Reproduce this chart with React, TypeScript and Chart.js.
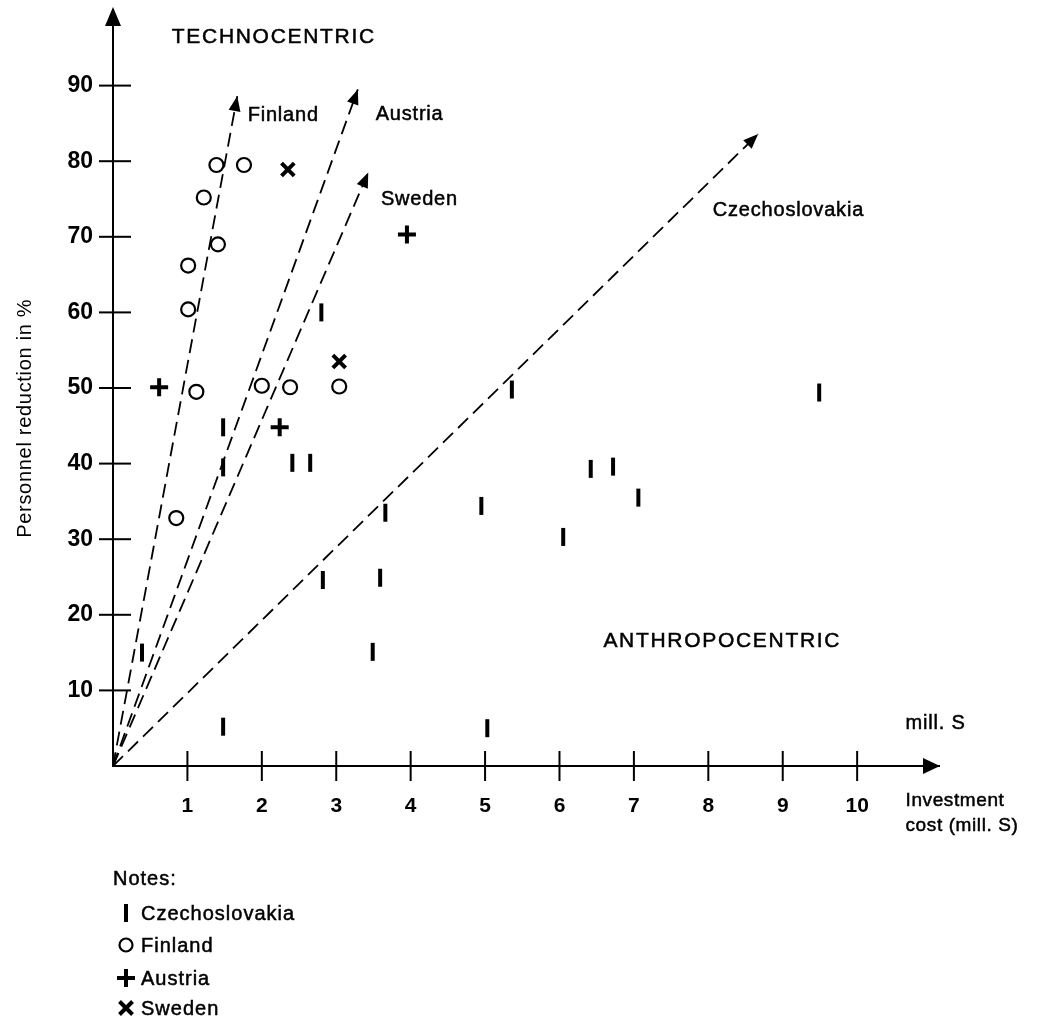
import React, { useEffect, useRef } from "react";
import { Chart, registerables } from "chart.js";

Chart.register(...registerables);

// ---- data ----
const czechX = [2.8, 1.48, 1.48, 2.41, 2.65, 3.66, 2.82, 3.59, 0.39, 3.49, 1.48, 5.36, 9.49, 6.42, 6.72, 7.06, 4.95, 6.05, 5.03];
const czechY = [60.0, 44.8, 39.5, 40.1, 40.1, 33.5, 24.6, 24.9, 15.0, 15.1, 5.2, 49.8, 49.4, 39.3, 39.6, 35.5, 34.4, 30.3, 5.0];
const finlandX = [1.39, 1.76, 1.22, 1.41, 1.01, 1.01, 1.12, 2.0, 2.38, 3.04, 0.85];
const finlandY = [79.5, 79.5, 75.2, 69.0, 66.2, 60.4, 49.5, 50.3, 50.1, 50.2, 32.8];
const austriaX = [3.95, 0.62, 2.24];
const austriaY = [70.3, 50.1, 44.8];
const swedenX = [2.35, 3.04];
const swedenY = [78.9, 53.5];

const trendNames = ["Finland", "Austria", "Sweden", "Czechoslovakia"];
const trendTipX = [1.67, 3.29, 3.43, 8.67];
const trendTipY = [88.6, 89.5, 78.5, 83.6];

const xTickValues = [1, 2, 3, 4, 5, 6, 7, 8, 9, 10];
const yTickValues = [10, 20, 30, 40, 50, 60, 70, 80, 90];

const legendNames = ["Czechoslovakia", "Finland", "Austria", "Sweden"];

// annotation texts (data coords)
const noteTexts = ["TECHNOCENTRIC", "Finland", "Austria", "Sweden", "Czechoslovakia", "ANTHROPOCENTRIC", "mill. S"];
const noteX = [0.79, 1.81, 3.53, 3.6, 8.06, 6.59, 10.65];
const noteY = [95.6, 85.3, 85.4, 74.2, 72.8, 15.7, 4.9];

const FONT = '"Liberation Sans", Arial, sans-serif';

const toPts = (xs: number[], ys: number[]) => xs.map((x, i) => ({ x, y: ys[i] }));

function boldishText(ctx: CanvasRenderingContext2D, t: string, x: number, y: number) {
  ctx.fillText(t, x, y);
  ctx.save();
  ctx.lineWidth = 0.5;
  ctx.strokeStyle = "#000";
  ctx.strokeText(t, x, y);
  ctx.restore();
}

function drawMarker(ctx: CanvasRenderingContext2D, kind: string, x: number, y: number) {
  ctx.save();
  ctx.strokeStyle = "#000";
  ctx.lineCap = "butt";
  if (kind === "bar") {
    ctx.lineWidth = 4;
    ctx.beginPath();
    ctx.moveTo(x, y - 9);
    ctx.lineTo(x, y + 9);
    ctx.stroke();
  } else if (kind === "circle") {
    ctx.lineWidth = 2.2;
    ctx.beginPath();
    ctx.arc(x, y, 6.5, 0, Math.PI * 2);
    ctx.stroke();
  } else if (kind === "plus") {
    ctx.lineWidth = 4;
    ctx.beginPath();
    ctx.moveTo(x - 9, y);
    ctx.lineTo(x + 9, y);
    ctx.moveTo(x, y - 9);
    ctx.lineTo(x, y + 9);
    ctx.stroke();
  } else {
    ctx.lineWidth = 4;
    const d = 6.5;
    ctx.beginPath();
    ctx.moveTo(x - d, y - d);
    ctx.lineTo(x + d, y + d);
    ctx.moveTo(x + d, y - d);
    ctx.lineTo(x - d, y + d);
    ctx.stroke();
  }
  ctx.restore();
}

const decorPlugin = {
  id: "decor",
  afterDatasetsDraw(chart: any) {
    const ctx: CanvasRenderingContext2D = chart.ctx;
    const xs = chart.scales.x;
    const ys = chart.scales.y;
    const area = chart.chartArea;
    const ox = xs.getPixelForValue(0);
    const oy = ys.getPixelForValue(0);
    ctx.save();
    ctx.fillStyle = "#000";
    ctx.strokeStyle = "#000";

    // arrowheads on trend lines
    trendTipX.forEach((tx, i) => {
      const px = xs.getPixelForValue(tx);
      const py = ys.getPixelForValue(trendTipY[i]);
      const ang = Math.atan2(py - oy, px - ox);
      const L = 15, W = 6;
      ctx.beginPath();
      ctx.moveTo(px, py);
      ctx.lineTo(px - L * Math.cos(ang) + W * Math.sin(ang), py - L * Math.sin(ang) - W * Math.cos(ang));
      ctx.lineTo(px - L * Math.cos(ang) - W * Math.sin(ang), py - L * Math.sin(ang) + W * Math.cos(ang));
      ctx.closePath();
      ctx.fill();
    });

    // axis tick marks crossing the axes
    ctx.lineWidth = 2;
    xTickValues.forEach((v) => {
      const px = xs.getPixelForValue(v);
      ctx.beginPath();
      ctx.moveTo(px, oy - 15);
      ctx.lineTo(px, oy + 15);
      ctx.stroke();
    });
    yTickValues.forEach((v) => {
      const py = ys.getPixelForValue(v);
      ctx.beginPath();
      ctx.moveTo(ox - 14, py);
      ctx.lineTo(ox + 18, py);
      ctx.stroke();
    });

    // axis arrows
    ctx.beginPath();
    ctx.moveTo(ox, area.top - 3);
    ctx.lineTo(ox - 8, area.top + 16);
    ctx.lineTo(ox + 8, area.top + 16);
    ctx.closePath();
    ctx.fill();
    ctx.beginPath();
    ctx.moveTo(area.right + 1, oy);
    ctx.lineTo(area.right - 16, oy - 8);
    ctx.lineTo(area.right - 16, oy + 8);
    ctx.closePath();
    ctx.fill();

    // annotation texts
    ctx.textBaseline = "alphabetic";
    ctx.textAlign = "left";
    noteTexts.forEach((t, i) => {
      const caps = t === t.toUpperCase() && t.length > 8;
      ctx.font = `${caps ? 21 : 20}px ${FONT}`;
      (ctx as any).letterSpacing = caps ? "1.7px" : "0.8px";
      boldishText(ctx, t, xs.getPixelForValue(noteX[i]), ys.getPixelForValue(noteY[i]));
    });

    // x axis title
    (ctx as any).letterSpacing = "0.6px";
    ctx.font = `19px ${FONT}`;
    const tx = xs.getPixelForValue(10.65);
    boldishText(ctx, "Investment", tx, oy + 40);
    boldishText(ctx, "cost (mill. S)", tx, oy + 65);

    // y axis title
    ctx.save();
    ctx.translate(31, ys.getPixelForValue(46));
    ctx.rotate(-Math.PI / 2);
    ctx.textAlign = "center";
    ctx.font = `20px ${FONT}`;
    (ctx as any).letterSpacing = "0.7px";
    ctx.fillText("Personnel reduction in %", 0, 0);
    ctx.restore();

    // notes legend
    ctx.font = `20px ${FONT}`;
    (ctx as any).letterSpacing = "1px";
    boldishText(ctx, "Notes:", ox, oy + 119);
    const kinds = ["bar", "circle", "plus", "cross"];
    const rowY = [oy + 154, oy + 186, oy + 219, oy + 249];
    legendNames.forEach((n, i) => {
      drawMarker(ctx, kinds[i], ox + 13, rowY[i] - 7);
      boldishText(ctx, n, ox + 28, rowY[i]);
    });
    ctx.restore();
  },
};

export default function App() {
  const ref = useRef<HTMLCanvasElement | null>(null);
  useEffect(() => {
    if (!ref.current) return;
    const lineDs = trendNames.map((n, i) => ({
      type: "line" as const,
      label: n + " trend",
      data: [{ x: 0, y: 0 }, { x: trendTipX[i], y: trendTipY[i] }],
      borderColor: "#000",
      borderWidth: 1.8,
      borderDash: [14, 7],
      pointRadius: 0,
      fill: false,
      tension: 0,
    }));
    const scatterBase = {
      type: "scatter" as const,
      borderColor: "#000",
      backgroundColor: "rgba(0,0,0,0)",
    };
    const chart = new Chart(ref.current, {
      type: "scatter",
      data: {
        datasets: [
          ...lineDs,
          { ...scatterBase, label: "Czechoslovakia", data: toPts(czechX, czechY), pointStyle: "line", rotation: 90, pointRadius: 9, borderWidth: 4 },
          { ...scatterBase, label: "Finland", data: toPts(finlandX, finlandY), pointStyle: "circle", pointRadius: 7, borderWidth: 2.2 },
          { ...scatterBase, label: "Austria", data: toPts(austriaX, austriaY), pointStyle: "cross", pointRadius: 9, borderWidth: 4 },
          { ...scatterBase, label: "Sweden", data: toPts(swedenX, swedenY), pointStyle: "crossRot", pointRadius: 9, borderWidth: 4 },
        ] as any,
      },
      options: {
        animation: false,
        responsive: false,
        maintainAspectRatio: false,
        layout: { autoPadding: false, padding: { top: 10, right: 102, bottom: 0, left: 0 } },
        plugins: { legend: { display: false }, tooltip: { enabled: false } },
        scales: {
          x: {
            type: "linear",
            min: 0,
            max: 11.1,
            afterFit: (s: any) => { s.height = 259; s.paddingLeft = 0; s.paddingRight = 0; },
            grid: { display: false, drawTicks: false },
            border: { display: true, color: "#000", width: 2 },
            ticks: {
              stepSize: 1,
              autoSkip: false,
              maxRotation: 0,
              padding: 28,
              color: "#000",
              font: { family: '"Liberation Sans Narrow", "Liberation Sans", sans-serif', size: 21, weight: "bold" },
              callback: (v: any) => (xTickValues.includes(v) ? String(v) : ""),
            },
          },
          y: {
            type: "linear",
            min: 0,
            max: 100,
            afterFit: (s: any) => { s.width = 113; s.paddingTop = 0; s.paddingBottom = 0; },
            grid: { display: false, drawTicks: false },
            border: { display: true, color: "#000", width: 2 },
            ticks: {
              stepSize: 10,
              autoSkip: false,
              padding: 20,
              color: "#000",
              font: { family: FONT, size: 23, weight: "bold" },
              callback: (v: any) => (yTickValues.includes(v) ? String(v) : ""),
            },
          },
        },
      },
      plugins: [decorPlugin],
    });
    return () => chart.destroy();
  }, []);
  return (
    <div style={{ position: "fixed", left: 0, top: 0, width: 1041, height: 1025, background: "#fff" }}>
      <canvas ref={ref} width={1041} height={1025} />
    </div>
  );
}
